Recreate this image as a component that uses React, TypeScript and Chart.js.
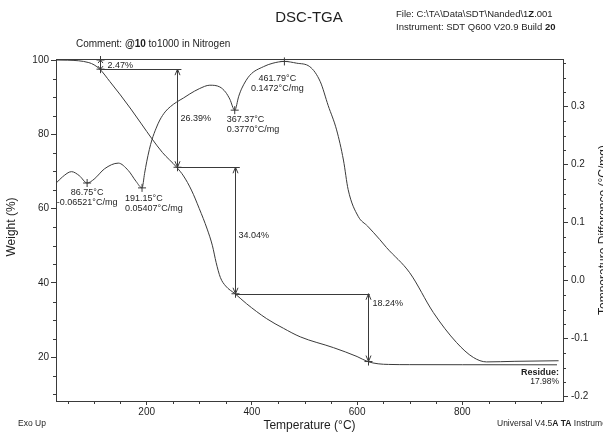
import React, { useEffect, useRef } from 'react';
import { Chart, registerables } from 'chart.js';

Chart.register(...registerables);

const FONT = '"Liberation Sans", Arial, Helvetica, sans-serif';
const INK = '#1e1e1e';
const LINE = '#3a3a3a';

// Weight trace (TGA), temperature in °C, weight in %
const tgaTemp = [27.6, 50, 70, 90, 100, 111, 130, 150, 170, 190, 210, 230, 257, 270, 285, 300, 315, 325, 332, 340, 350, 368, 390, 428, 460, 492, 555, 600, 620, 640, 660, 700, 800, 980];
const tgaWeight = [100, 99.95, 99.8, 99.3, 98.7, 97.53, 94.2, 90.6, 86.8, 82.8, 78.8, 75.1, 71.14, 68.8, 65.0, 60.0, 54.5, 50.0, 45.5, 41.5, 39.2, 37.1, 34.4, 30.4, 27.8, 25.5, 22.6, 20.2, 18.86, 18.25, 18.08, 18.02, 18.0, 17.98];

// Heat-flow trace (DSC), temperature difference in °C/mg
const dscTemp = [27.6, 40, 57, 72, 86.75, 100, 120, 146, 165, 180, 191.15, 196, 200, 205, 210, 218, 225, 235, 245, 257, 270, 282, 300, 320, 339, 350, 358, 367.37, 375, 381, 396, 422, 440, 461.79, 485, 510, 530, 545, 561, 574, 583, 602, 620, 643, 656, 700, 745, 789, 821, 846, 900, 983];
const dscDiff = [0.168, 0.179, 0.188, 0.181, 0.1684, 0.175, 0.193, 0.2027, 0.19, 0.171, 0.16, 0.185, 0.205, 0.226, 0.243, 0.263, 0.277, 0.291, 0.3, 0.308, 0.315, 0.322, 0.331, 0.337, 0.334, 0.325, 0.313, 0.294, 0.318, 0.332, 0.354, 0.369, 0.375, 0.378, 0.375, 0.369, 0.343, 0.302, 0.26, 0.208, 0.157, 0.111, 0.094, 0.071, 0.057, 0.0137, -0.055, -0.1066, -0.1323, -0.14, -0.139, -0.138];

// Axis ticks
const weightTicks = [20, 40, 60, 80, 100];
const diffTicks = [-0.2, -0.1, 0.0, 0.1, 0.2, 0.3];
const tempTicks = [200, 400, 600, 800];

// DSC peak annotations
const peakTemp = [86.75, 191.15, 367.37, 461.79];
const peakDiff = [0.1684, 0.16, 0.294, 0.378];
const peakValue = ['-0.06521°C/mg', '0.05407°C/mg', '0.3770°C/mg', '0.1472°C/mg'];

// Weight-loss steps
const stepTemp = [111, 257, 368, 620];
const stepLoss = [2.47, 26.39, 34.04, 18.24];
const shelfEndTemp = [266, 377, 624];
const residue = 17.98;

// step boundaries derived from the stated losses
const stepTop: number[] = [];
const stepBottom: number[] = [];
{
  let w = 100;
  for (const loss of stepLoss) {
    stepTop.push(w);
    w = +(w - loss).toFixed(2);
    stepBottom.push(w);
  }
}

// label placement relative to the marks
const peakLabelStyle = [
  { align: 'center' as CanvasTextAlign, dx: 0, dy: 10 },
  { align: 'left' as CanvasTextAlign, dx: -17, dy: 11 },
  { align: 'left' as CanvasTextAlign, dx: -8, dy: 9 },
  { align: 'center' as CanvasTextAlign, dx: -7, dy: 17 },
];
const stepLabelDx = [7, 3, 3, 4];
const stepLabelAt = [0.6, 0.5, 0.54, 0.14];

type Run = [string, boolean];

function drawRuns(ctx: CanvasRenderingContext2D, x: number, y: number, runs: Run[], size: number) {
  let cx = x;
  ctx.textAlign = 'left';
  for (const [t, bold] of runs) {
    ctx.font = `${bold ? 'bold ' : ''}${size}px ${FONT}`;
    ctx.fillText(t, cx, y);
    cx += ctx.measureText(t).width;
  }
}

function arrowHead(ctx: CanvasRenderingContext2D, x: number, y: number, dir: number, len: number) {
  ctx.beginPath();
  ctx.moveTo(x - 2.5, y - dir * len);
  ctx.lineTo(x, y);
  ctx.lineTo(x + 2.5, y - dir * len);
  ctx.stroke();
}

function cross(ctx: CanvasRenderingContext2D, x: number, y: number, r: number) {
  ctx.beginPath();
  ctx.moveTo(x - r, y);
  ctx.lineTo(x + r, y);
  ctx.moveTo(x, y - r);
  ctx.lineTo(x, y + r);
  ctx.stroke();
}

const annotations = {
  id: 'thermoAnnotations',
  afterDatasetsDraw(chart: Chart) {
    const ctx = chart.ctx;
    const xs = chart.scales.x;
    const ys = chart.scales.y;
    const y1 = chart.scales.y1;
    const area = chart.chartArea;
    ctx.save();
    ctx.strokeStyle = LINE;
    ctx.fillStyle = INK;
    ctx.lineWidth = 1;

    // top frame line
    ctx.beginPath();
    ctx.moveTo(area.left, area.top + 0.5);
    ctx.lineTo(area.right, area.top + 0.5);
    ctx.stroke();

    // minor ticks
    ctx.beginPath();
    for (let v = 50; v < 1000; v += 50) {
      if (v % 200 === 0) continue;
      const px = Math.round(xs.getPixelForValue(v)) + 0.5;
      if (px < area.left || px > area.right) continue;
      ctx.moveTo(px, area.bottom);
      ctx.lineTo(px, area.bottom + 3);
    }
    for (let v = 10; v < 100; v += 5) {
      if (v % 20 === 0) continue;
      const py = Math.round(ys.getPixelForValue(v)) + 0.5;
      ctx.moveTo(area.left, py);
      ctx.lineTo(area.left - 3, py);
    }
    for (let i = -8; i <= 15; i++) {
      if (i % 4 === 0) continue;
      const py = Math.round(y1.getPixelForValue(i * 0.025)) + 0.5;
      if (py < area.top || py > area.bottom) continue;
      ctx.moveTo(area.right, py);
      ctx.lineTo(area.right + 3, py);
    }
    ctx.stroke();

    // weight-loss steps: vertical double arrows and shelves
    ctx.textBaseline = 'middle';
    stepTemp.forEach((t, i) => {
      const x = Math.round(xs.getPixelForValue(t)) + 0.5;
      const yTop = ys.getPixelForValue(stepTop[i]);
      const yBot = ys.getPixelForValue(stepBottom[i]);
      ctx.beginPath();
      ctx.moveTo(x, yTop);
      ctx.lineTo(x, yBot);
      ctx.stroke();
      const len = Math.min(6, (yBot - yTop) / 3);
      arrowHead(ctx, x, yTop, -1, len);
      arrowHead(ctx, x, yBot, 1, len);
      cross(ctx, x, yBot, 4);
      if (i === 0) cross(ctx, x, yTop, 4);
      ctx.textAlign = 'left';
      ctx.font = `9px ${FONT}`;
      ctx.fillText(`${stepLoss[i].toFixed(2)}%`, x + stepLabelDx[i], yTop + (yBot - yTop) * stepLabelAt[i]);
    });
    shelfEndTemp.forEach((t, i) => {
      const y = Math.round(ys.getPixelForValue(stepBottom[i])) + 0.5;
      ctx.beginPath();
      ctx.moveTo(xs.getPixelForValue(stepTemp[i]), y);
      ctx.lineTo(xs.getPixelForValue(t), y);
      ctx.stroke();
    });

    // DSC peaks
    peakTemp.forEach((t, i) => {
      const x = xs.getPixelForValue(t);
      const y = y1.getPixelForValue(peakDiff[i]);
      cross(ctx, x, y, 4);
      const s = peakLabelStyle[i];
      ctx.textAlign = s.align;
      ctx.font = `9px ${FONT}`;
      ctx.fillText(`${t.toFixed(2)}°C`, x + s.dx, y + s.dy);
      ctx.fillText(peakValue[i], x + s.dx, y + s.dy + 10);
    });

    // residue
    ctx.textAlign = 'right';
    ctx.font = `bold 9px ${FONT}`;
    ctx.fillText('Residue:', area.right - 4, 373);
    ctx.font = `8.5px ${FONT}`;
    ctx.fillText(`${residue.toFixed(2)}%`, area.right - 4, 382);
    ctx.restore();
  },
  afterDraw(chart: Chart) {
    const ctx = chart.ctx;
    const area = chart.chartArea;
    ctx.save();
    ctx.fillStyle = INK;
    ctx.textBaseline = 'middle';

    ctx.textAlign = 'center';
    ctx.font = `15px ${FONT}`;
    ctx.fillText('DSC-TGA', 309, 18);

    drawRuns(ctx, 396, 14, [['File: C:\\TA\\Data\\SDT\\Nanded\\1', false], ['Z', true], ['.001', false]], 9.5);
    drawRuns(ctx, 396, 27, [['Instrument: SDT Q600 V20.9 Build ', false], ['20', true]], 9.5);
    drawRuns(ctx, 76, 44, [['Comment: ', false], ['@10', true], [' to1000 in Nitrogen', false]], 10);

    ctx.textAlign = 'center';
    ctx.font = `12px ${FONT}`;
    ctx.fillText('Temperature (°C)', (area.left + area.right) / 2, 426);

    drawRuns(ctx, 18, 424, [['Exo Up', false]], 8.5);
    drawRuns(ctx, 497, 424, [['Universal V4.5', false], ['A TA', true], [' Instruments', false]], 8.5);

    ctx.save();
    ctx.translate(12, (area.top + area.bottom) / 2 - 3);
    ctx.rotate(-Math.PI / 2);
    ctx.textAlign = 'center';
    ctx.font = `12px ${FONT}`;
    ctx.fillText('Weight (%)', 0, 0);
    ctx.restore();

    ctx.save();
    ctx.translate(604, (area.top + area.bottom) / 2);
    ctx.rotate(-Math.PI / 2);
    ctx.textAlign = 'center';
    ctx.font = `12px ${FONT}`;
    ctx.fillText('Temperature Difference (°C/mg)', 0, 0);
    ctx.restore();

    ctx.restore();
  },
};

export default function App() {
  const ref = useRef<HTMLCanvasElement | null>(null);

  useEffect(() => {
    document.body.style.margin = '0';
    const canvas = ref.current;
    if (!canvas) return;

    const tickFont = { family: FONT, size: 10 };
    const axisGrid = { drawOnChartArea: false, drawTicks: true, tickLength: 5, color: LINE };
    const axisBorder = { display: true, color: LINE, width: 1 };

    const chart = new Chart(canvas, {
      type: 'scatter',
      data: {
        datasets: [
          {
            label: 'Weight (%)',
            data: tgaTemp.map((t, i) => ({ x: t, y: tgaWeight[i] })),
            yAxisID: 'y',
            showLine: true,
            borderColor: LINE,
            borderWidth: 1,
            pointRadius: 0,
            cubicInterpolationMode: 'monotone',
          },
          {
            label: 'Temperature Difference (°C/mg)',
            data: dscTemp.map((t, i) => ({ x: t, y: dscDiff[i] })),
            yAxisID: 'y1',
            showLine: true,
            borderColor: LINE,
            borderWidth: 1,
            pointRadius: 0,
            cubicInterpolationMode: 'monotone',
          },
        ],
      },
      options: {
        responsive: false,
        animation: false,
        devicePixelRatio: 1,
        layout: { padding: { top: 59, left: 0, right: 0, bottom: 0 } },
        plugins: { legend: { display: false }, tooltip: { enabled: false }, title: { display: false } },
        scales: {
          x: {
            type: 'linear',
            min: 27.6,
            max: 991.4,
            afterBuildTicks: (s: any) => { s.ticks = tempTicks.map((v) => ({ value: v })); },
            afterFit: (s: any) => { s.height = 31; },
            ticks: { font: tickFont, color: INK, padding: 1, maxRotation: 0, autoSkip: false },
            grid: { ...axisGrid, tickLength: 4 },
            border: axisBorder,
          },
          y: {
            type: 'linear',
            position: 'left',
            min: 8.24,
            max: 100.27,
            afterBuildTicks: (s: any) => { s.ticks = weightTicks.map((v) => ({ value: v })); },
            afterFit: (s: any) => { s.width = 56; },
            ticks: { font: tickFont, color: INK, padding: 2, autoSkip: false },
            grid: axisGrid,
            border: axisBorder,
          },
          y1: {
            type: 'linear',
            position: 'right',
            min: -0.2074,
            max: 0.3822,
            afterBuildTicks: (s: any) => { s.ticks = diffTicks.map((v) => ({ value: v })); },
            afterFit: (s: any) => { s.width = 40; },
            ticks: { font: tickFont, color: INK, padding: 3, autoSkip: false, callback: (v: any) => Number(v).toFixed(1) },
            grid: axisGrid,
            border: axisBorder,
          },
        },
      },
      plugins: [annotations],
    } as any);

    return () => chart.destroy();
  }, []);

  return (
    <div style={{ width: 603, height: 432, background: '#fff' }}>
      <canvas ref={ref} width={603} height={432} style={{ display: 'block', width: 603, height: 432 }} />
    </div>
  );
}
